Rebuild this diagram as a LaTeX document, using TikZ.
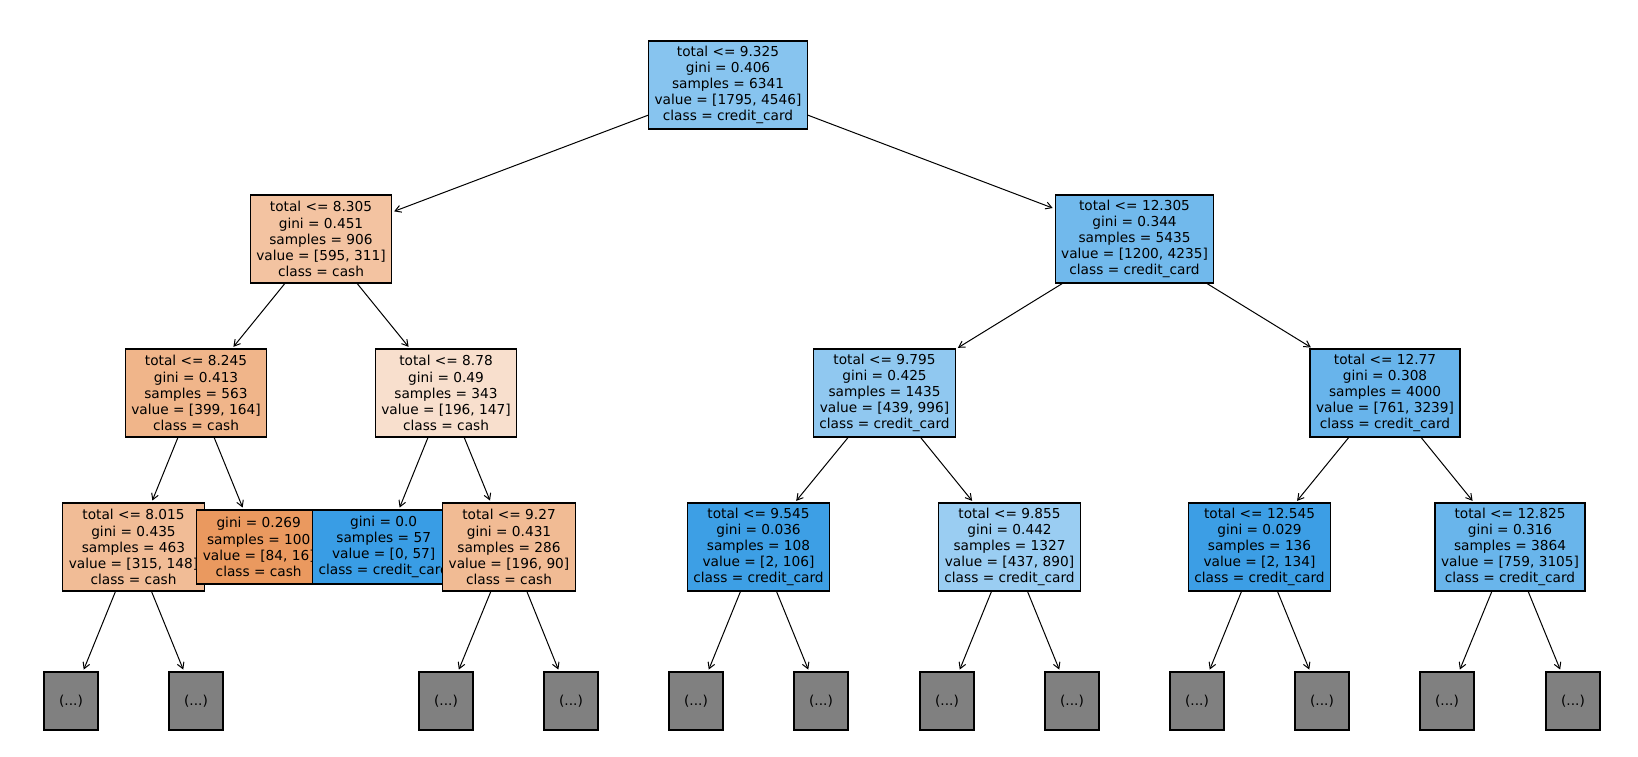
\documentclass[tikz,border=0pt]{standalone}
\usepackage{fontspec}
\setmainfont{DejaVu Sans}
\usepackage{xcolor}
\usepackage{tikz}
\usetikzlibrary{arrows.meta}
\definecolor{cash}{HTML}{E58139}
\definecolor{card}{HTML}{399DE5}
\definecolor{folded}{HTML}{808080}
\newcommand{\treefont}{\fontsize{13.7}{16.1}\selectfont}
\tikzset{
  split/.style={draw=black, line width=1.2pt, inner xsep=6pt, inner ysep=0pt, minimum height=88pt, align=center, font=\treefont},
  leaf/.style={split, minimum height=74pt},
  more/.style={draw=black, line width=1.2pt, fill=folded, minimum width=54pt, minimum height=58pt, inner sep=0pt, font=\treefont},
  edge/.style={draw=black, line width=1pt, -{Straight Barb[length=6pt,width=7pt]}, shorten >=2pt},
}

\begin{document}
\begin{tikzpicture}[x=1pt,y=-1pt]
  \useasboundingbox (0,0) rectangle (1638,757);

  % depth 0 and 1
  \node[split, fill=card!60.5!white] (root) at (728,85)
    {total <= 9.325\\gini = 0.406\\samples = 6341\\value = [1795, 4546]\\class = credit\_card};
  \node[split, fill=cash!47.7!white] (l) at (321,239)
    {total <= 8.305\\gini = 0.451\\samples = 906\\value = [595, 311]\\class = cash};
  \node[split, fill=card!71.7!white] (r) at (1134.5,239)
    {total <= 12.305\\gini = 0.344\\samples = 5435\\value = [1200, 4235]\\class = credit\_card};

  % depth 2
  \node[split, fill=cash!58.9!white] (ll) at (196,393)
    {total <= 8.245\\gini = 0.413\\samples = 563\\value = [399, 164]\\class = cash};
  \node[split, fill=cash!25!white] (lr) at (446,393)
    {total <= 8.78\\gini = 0.49\\samples = 343\\value = [196, 147]\\class = cash};
  \node[split, fill=card!55.9!white] (rl) at (884.5,393)
    {total <= 9.795\\gini = 0.425\\samples = 1435\\value = [439, 996]\\class = credit\_card};
  \node[split, fill=card!76.5!white] (rr) at (1385,393)
    {total <= 12.77\\gini = 0.308\\samples = 4000\\value = [761, 3239]\\class = credit\_card};

  % depth 3 (drawn left to right, later boxes lie on top)
  \node[split, fill=cash!53!white] (lll) at (133.5,547)
    {total <= 8.015\\gini = 0.435\\samples = 463\\value = [315, 148]\\class = cash};
  \node[leaf, fill=cash!81!white] (llr) at (258.7,547)
    {gini = 0.269\\samples = 100\\value = [84, 16]\\class = cash};
  \node[leaf, fill=card] (lrl) at (383.7,547)
    {gini = 0.0\\samples = 57\\value = [0, 57]\\class = credit\_card};
  \node[split, fill=cash!54.1!white] (lrr) at (509,547)
    {total <= 9.27\\gini = 0.431\\samples = 286\\value = [196, 90]\\class = cash};
  \node[split, fill=card!98.1!white] (rll) at (758.5,547)
    {total <= 9.545\\gini = 0.036\\samples = 108\\value = [2, 106]\\class = credit\_card};
  \node[split, fill=card!50.9!white] (rlr) at (1009.5,547)
    {total <= 9.855\\gini = 0.442\\samples = 1327\\value = [437, 890]\\class = credit\_card};
  \node[split, fill=card!98.5!white] (rrl) at (1259.5,547)
    {total <= 12.545\\gini = 0.029\\samples = 136\\value = [2, 134]\\class = credit\_card};
  \node[split, fill=card!75.6!white] (rrr) at (1510,547)
    {total <= 12.825\\gini = 0.316\\samples = 3864\\value = [759, 3105]\\class = credit\_card};

  % truncated subtrees
  \foreach \p/\x in {lll/71, lll/196, lrr/446, lrr/571, rll/696, rll/821,
                     rlr/947, rlr/1072, rrl/1197, rrl/1322, rrr/1447, rrr/1573} {
    \node[more] (m\x) at (\x,701) {(...)};
    \draw[edge] (\p) -- (m\x);
  }

  % connectors
  \draw[edge] (root) -- (l);
  \draw[edge] (root) -- (r);
  \draw[edge] (l) -- (ll);
  \draw[edge] (l) -- (lr);
  \draw[edge] (r) -- (rl);
  \draw[edge] (r) -- (rr);
  \draw[edge] (ll) -- (lll);
  \draw[edge] (ll) -- (llr);
  \draw[edge] (lr) -- (lrl);
  \draw[edge] (lr) -- (lrr);
  \draw[edge] (rl) -- (rll);
  \draw[edge] (rl) -- (rlr);
  \draw[edge] (rr) -- (rrl);
  \draw[edge] (rr) -- (rrr);
\end{tikzpicture}
\end{document}
